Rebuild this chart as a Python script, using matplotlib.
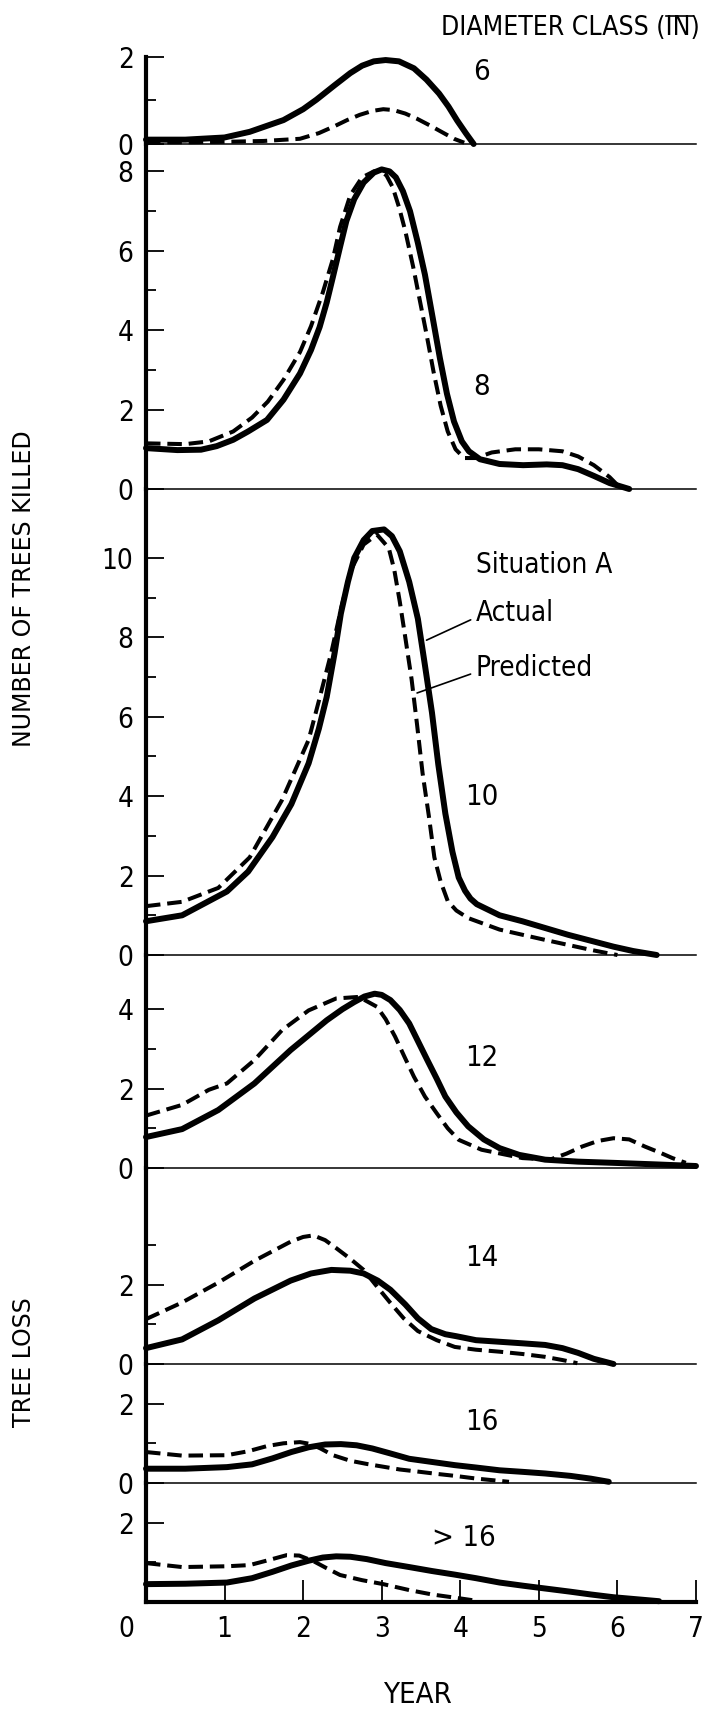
import matplotlib
matplotlib.use('Agg')
import matplotlib.pyplot as plt
import matplotlib.font_manager as fm
from matplotlib.lines import Line2D
import matplotlib.transforms as mtransforms

# pick the narrowest sans that is installed (the original uses a condensed face)
fonts = fm.fontManager.ttflist
names = {f.name for f in fonts}
stretch = 'normal'
if 'Liberation Sans Narrow' in names:
    cond = 'Liberation Sans Narrow'
elif any(f.name == 'DejaVu Sans' and f.stretch == 'condensed' for f in fonts):
    cond, stretch = 'DejaVu Sans', 'condensed'
elif 'Roboto Condensed' in names:
    cond = 'Roboto Condensed'
elif 'Liberation Sans' in names:
    cond = 'Liberation Sans'
else:
    cond = 'DejaVu Sans'
plt.rcParams['font.family'] = [cond, 'DejaVu Sans']
plt.rcParams['font.stretch'] = stretch

# ---- data (year, trees killed) ----
x_act6 = [0, 0.5, 1.0, 1.32, 1.75, 2.0, 2.17, 2.4, 2.6, 2.75, 2.9, 3.05, 3.22, 3.41, 3.57, 3.73, 3.85, 3.96, 4.07, 4.17]
y_act6 = [0.1, 0.1, 0.15, 0.28, 0.55, 0.8, 1.02, 1.35, 1.63, 1.8, 1.9, 1.93, 1.9, 1.74, 1.48, 1.16, 0.86, 0.54, 0.25, 0.0]
x_pre6 = [0, 0.5, 1.0, 1.5, 1.96, 2.2, 2.4, 2.56, 2.72, 2.88, 3.02, 3.15, 3.3, 3.45, 3.62, 3.77, 3.92, 4.05]
y_pre6 = [0.04, 0.04, 0.05, 0.07, 0.12, 0.25, 0.41, 0.55, 0.67, 0.76, 0.8, 0.78, 0.7, 0.58, 0.42, 0.27, 0.12, 0.03]

x_act8 = [0, 0.4, 0.7, 0.9, 1.11, 1.3, 1.54, 1.75, 1.96, 2.1, 2.21, 2.3, 2.38, 2.47, 2.55, 2.65, 2.77, 2.9, 3.0,
          3.1, 3.18, 3.27, 3.36, 3.46, 3.55, 3.65, 3.74, 3.83, 3.92, 4.02, 4.11, 4.25, 4.5, 4.8, 5.1, 5.3, 5.5,
          5.7, 5.9, 6.15]
y_act8 = [1.03, 0.98, 0.99, 1.08, 1.24, 1.45, 1.74, 2.25, 2.91, 3.5, 4.08, 4.7, 5.35, 6.1, 6.75, 7.3, 7.72, 7.97, 8.05,
          8.0, 7.85, 7.5, 7.0, 6.2, 5.4, 4.3, 3.3, 2.4, 1.7, 1.2, 0.95, 0.75, 0.63, 0.6, 0.62, 0.6, 0.5,
          0.33, 0.15, 0.0]
x_pre8 = [0, 0.5, 0.8, 1.11, 1.35, 1.55, 1.75, 1.96, 2.1, 2.25, 2.38, 2.47, 2.6, 2.75, 2.9, 2.97, 3.06, 3.14, 3.22,
          3.3, 3.4, 3.48, 3.57, 3.66, 3.75, 3.84, 3.94, 4.05, 4.2, 4.4, 4.7, 5.0, 5.3, 5.5, 5.7, 5.9, 6.05]
y_pre8 = [1.15, 1.13, 1.2, 1.45, 1.8, 2.2, 2.75, 3.45, 4.1, 4.95, 5.8, 6.6, 7.4, 7.85, 8.0, 8.02, 7.9, 7.6, 7.1,
          6.5, 5.6, 4.8, 3.9, 2.95, 2.1, 1.45, 1.0, 0.78, 0.78, 0.92, 1.0, 1.0, 0.95, 0.82, 0.6, 0.3, 0.0]

x_act10 = [0, 0.46, 1.03, 1.3, 1.61, 1.85, 2.07, 2.2, 2.3, 2.4, 2.48, 2.57, 2.65, 2.77, 2.88, 3.03, 3.13, 3.23,
           3.35, 3.46, 3.55, 3.64, 3.72, 3.81, 3.9, 3.98, 4.06, 4.13, 4.21, 4.5, 4.79, 5.08, 5.37, 5.66, 5.95, 6.2, 6.5]
y_act10 = [0.85, 1.0, 1.6, 2.1, 2.97, 3.8, 4.83, 5.7, 6.5, 7.6, 8.6, 9.4, 10.0, 10.45, 10.68, 10.72, 10.55, 10.17,
           9.4, 8.47, 7.3, 6.1, 4.8, 3.56, 2.6, 1.95, 1.62, 1.42, 1.28, 1.0, 0.85, 0.68, 0.51, 0.36, 0.21, 0.1, 0.0]
x_pre10 = [0, 0.46, 0.92, 1.32, 1.73, 2.07, 2.2, 2.36, 2.48, 2.6, 2.77, 2.94, 3.09, 3.16, 3.23, 3.3, 3.38,
           3.45, 3.52, 3.6, 3.67, 3.75, 3.84, 3.95, 4.1, 4.5, 5.08, 5.66, 5.89, 6.0]
y_pre10 = [1.23, 1.34, 1.69, 2.46, 3.9, 5.42, 6.4, 7.63, 8.7, 9.66, 10.34, 10.59, 10.25, 9.7, 8.9, 8.0, 6.95,
           5.8, 4.58, 3.5, 2.46, 1.85, 1.36, 1.12, 0.93, 0.64, 0.38, 0.13, 0.04, 0.0]

x_act12 = [0, 0.46, 0.92, 1.38, 1.84, 2.3, 2.5, 2.65, 2.78, 2.91, 3.0, 3.11, 3.23, 3.35, 3.46, 3.58, 3.7, 3.81,
           3.95, 4.1, 4.3, 4.5, 4.75, 5.08, 5.5, 5.95, 6.5, 7.0]
y_act12 = [0.78, 0.98, 1.46, 2.13, 2.97, 3.72, 4.0, 4.18, 4.32, 4.39, 4.36, 4.23, 3.98, 3.64, 3.2, 2.72, 2.25, 1.8,
           1.4, 1.05, 0.72, 0.5, 0.33, 0.21, 0.16, 0.13, 0.09, 0.05]
x_pre12 = [0, 0.46, 0.8, 1.03, 1.38, 1.73, 2.07, 2.42, 2.71, 2.94, 3.05, 3.17, 3.29, 3.41, 3.55, 3.7, 3.84, 3.98,
           4.27, 4.79, 5.14, 5.35, 5.55, 5.75, 5.95, 6.15, 6.35, 6.55, 6.7, 6.87]
y_pre12 = [1.32, 1.59, 1.97, 2.13, 2.72, 3.47, 3.97, 4.27, 4.31, 4.06, 3.75, 3.31, 2.8, 2.3, 1.8, 1.38, 1.0, 0.71,
           0.46, 0.25, 0.21, 0.36, 0.54, 0.68, 0.75, 0.72, 0.54, 0.38, 0.25, 0.13]

x_act14 = [0, 0.46, 0.92, 1.38, 1.84, 2.1, 2.36, 2.6, 2.77, 2.95, 3.11, 3.3, 3.46, 3.63, 3.81, 3.95, 4.2, 4.5,
           4.8, 5.08, 5.3, 5.5, 5.7, 5.95]
y_act14 = [0.4, 0.62, 1.1, 1.65, 2.1, 2.28, 2.37, 2.35, 2.28, 2.1, 1.87, 1.5, 1.15, 0.88, 0.75, 0.7, 0.6, 0.56,
           0.52, 0.48, 0.4, 0.28, 0.13, 0.0]
x_pre14 = [0, 0.46, 0.92, 1.38, 1.84, 2.0, 2.13, 2.28, 2.42, 2.6, 2.77, 2.94, 3.11, 3.28, 3.46, 3.7, 3.93, 4.2,
           4.5, 4.8, 5.08, 5.3, 5.49]
y_pre14 = [1.13, 1.55, 2.05, 2.6, 3.08, 3.2, 3.24, 3.12, 2.92, 2.65, 2.37, 1.95, 1.54, 1.15, 0.83, 0.6, 0.43, 0.36,
           0.31, 0.25, 0.18, 0.1, 0.02]

x_act16 = [0, 0.5, 1.03, 1.35, 1.61, 1.85, 2.07, 2.28, 2.48, 2.68, 2.88, 3.1, 3.35, 3.64, 3.93, 4.2, 4.5, 4.8,
           5.08, 5.4, 5.66, 5.89]
y_act16 = [0.36, 0.36, 0.4, 0.47, 0.62, 0.78, 0.9, 0.97, 0.98, 0.95, 0.87, 0.75, 0.61, 0.53, 0.45, 0.39, 0.32, 0.28,
           0.24, 0.18, 0.11, 0.03]
x_pre16 = [0, 0.46, 1.03, 1.3, 1.54, 1.75, 1.96, 2.1, 2.22, 2.38, 2.6, 2.81, 3.05, 3.23, 3.45, 3.7, 3.93, 4.21, 4.62]
y_pre16 = [0.78, 0.69, 0.7, 0.8, 0.93, 1.0, 1.03, 0.98, 0.87, 0.7, 0.56, 0.48, 0.4, 0.34, 0.29, 0.23, 0.18, 0.11, 0.03]

x_act_gt16 = [0, 0.5, 1.03, 1.35, 1.61, 1.85, 2.07, 2.25, 2.42, 2.6, 2.81, 3.05, 3.35, 3.64, 3.93, 4.2, 4.5, 4.8,
              5.08, 5.4, 5.66, 5.95, 6.24, 6.53]
y_act_gt16 = [0.45, 0.46, 0.49, 0.6, 0.76, 0.92, 1.04, 1.12, 1.15, 1.14, 1.08, 0.98, 0.88, 0.78, 0.69, 0.6, 0.49, 0.41,
              0.34, 0.26, 0.19, 0.12, 0.07, 0.02]
x_pre_gt16 = [0, 0.46, 1.03, 1.32, 1.55, 1.79, 1.95, 2.13, 2.3, 2.47, 2.75, 3.02, 3.35, 3.64, 3.93, 4.21]
y_pre_gt16 = [0.98, 0.88, 0.9, 0.93, 1.05, 1.18, 1.17, 1.03, 0.85, 0.68, 0.55, 0.45, 0.3, 0.19, 0.11, 0.03]

class_labels = ['6', '8', '10', '12', '14', '16', '> 16']
class_label_y = [1.65, 2.57, 3.98, 2.77, 2.67, 1.54, 1.61]
major_ticks = [[0, 2], [0, 2, 4, 6, 8], [0, 2, 4, 6, 8, 10], [0, 2, 4], [0, 2], [0, 2], [2]]
minor_ticks = [[1], [1, 3, 5, 7], [1, 3, 5, 7, 9], [1, 3], [1, 3], [1], [1]]
years = [0, 1, 2, 3, 4, 5, 6, 7]

actual = [(x_act6, y_act6), (x_act8, y_act8), (x_act10, y_act10), (x_act12, y_act12),
          (x_act14, y_act14), (x_act16, y_act16), (x_act_gt16, y_act_gt16)]
predicted = [(x_pre6, y_pre6), (x_pre8, y_pre8), (x_pre10, y_pre10), (x_pre12, y_pre12),
             (x_pre14, y_pre14), (x_pre16, y_pre16), (x_pre_gt16, y_pre_gt16)]

# ---- layout (pixels) ----
W, H = 713, 1710
x0, x1 = 146, 696
px_per_unit = 39.7
panel_px = [(57, 144), (144, 489), (489, 955), (955, 1168), (1168, 1364), (1364, 1483), (1483, 1602)]

fig = plt.figure(figsize=(W / 100, H / 100), dpi=100)

axes = []
for i, (top, bot) in enumerate(panel_px):
    ax = fig.add_axes([x0 / W, 1 - bot / H, (x1 - x0) / W, (bot - top) / H])
    ax.patch.set_alpha(0)
    ax.set_xlim(0, 7)
    ymax = 2 if i == 0 else (bot - top) / px_per_unit
    ax.set_ylim(0, ymax)
    for s in ['top', 'right']:
        ax.spines[s].set_visible(False)
    ax.spines['left'].set_linewidth(3.0)
    last = i == len(panel_px) - 1
    ax.spines['bottom'].set_linewidth(3.0 if last else 1.1)

    ax.set_yticks(major_ticks[i])
    ax.set_yticks(minor_ticks[i], minor=True)
    ax.tick_params(axis='y', which='major', direction='in', length=13, width=1.3, pad=9, labelsize=20)
    ax.tick_params(axis='y', which='minor', direction='in', length=7, width=1.3)

    if last:
        ax.set_xticks(years)
        ax.tick_params(axis='x', direction='in', length=16, width=1.3, pad=9, labelsize=20)
        lab0 = ax.get_xticklabels()[0]
        lab0.set_transform(lab0.get_transform() + mtransforms.ScaledTranslation(-0.2, 0, fig.dpi_scale_trans))
    else:
        ax.set_xticks([])

    xa, ya = actual[i]
    xp, yp = predicted[i]
    ax.plot(xa, ya, color='black', lw=4.3, solid_capstyle='round', solid_joinstyle='round', clip_on=False, zorder=3)
    ax.plot(xp, yp, color='black', lw=2.9, dashes=(3.6, 1.7), dash_capstyle='butt', clip_on=False, zorder=3)

    if class_labels[i].startswith('>'):
        ax.text(4.45, class_label_y[i], class_labels[i], ha='right', va='center', fontsize=21)
    else:
        ax.text(4.27, class_label_y[i], class_labels[i], ha='center', va='center', fontsize=21)
    axes.append(ax)

ax10 = axes[2]
ax10.text(4.2, 9.82, 'Situation A', ha='left', va='center', fontsize=20)
line_props = dict(arrowstyle='-', lw=1.2, color='black', shrinkA=2, shrinkB=0, relpos=(0, 0.35))
ax10.annotate('Actual', xy=(3.57, 7.93), xytext=(4.2, 8.61), ha='left', va='center', fontsize=20,
              arrowprops=line_props)
ax10.annotate('Predicted', xy=(3.45, 6.6), xytext=(4.2, 7.23), ha='left', va='center', fontsize=20,
              arrowprops=line_props)

# titles / axis labels
title = fig.text(700 / W, 1 - 28 / H, 'DIAMETER CLASS (IN)', ha='right', va='center', fontsize=19)
fig.text(24 / W, 1 - 589 / H, 'NUMBER OF TREES KILLED', rotation=90, ha='center', va='center',
         fontsize=17, family='DejaVu Sans', stretch='normal')
fig.text(24 / W, 1 - 1362 / H, 'TREE LOSS', rotation=90, ha='center', va='center',
         fontsize=17, family='DejaVu Sans', stretch='normal')
fig.text(417 / W, 1 - 1695 / H, 'YEAR', ha='center', va='center', fontsize=21)

# overline over "IN" in the title
fig.canvas.draw()
r = fig.canvas.get_renderer()
bb = title.get_window_extent(r)
t1 = fig.text(0, 0, 'IN)', fontsize=19)
t2 = fig.text(0, 0, ')', fontsize=19)
w1 = t1.get_window_extent(r).width
w2 = t2.get_window_extent(r).width
t1.remove()
t2.remove()
fig.add_artist(Line2D([bb.x1 - w1, bb.x1 - w2 + 2], [bb.y1 - 1, bb.y1 - 1], transform=None,
                      color='black', lw=1.2))

fig.savefig('out.png', dpi=100, facecolor='white')
